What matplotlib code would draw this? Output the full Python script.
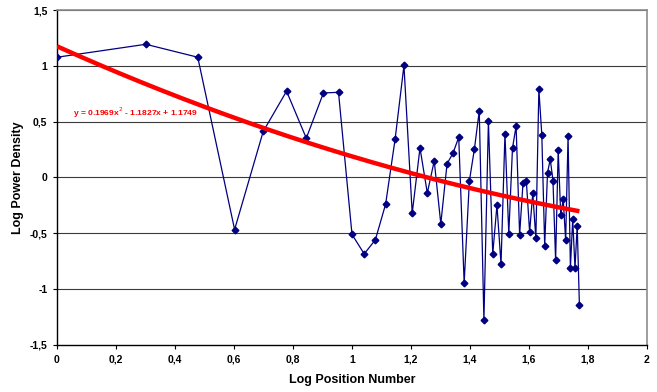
import numpy as np
import matplotlib
matplotlib.use("Agg")
import matplotlib.pyplot as plt
from matplotlib.ticker import FuncFormatter

plt.rcParams['font.family'] = ['Liberation Sans', 'DejaVu Sans']

# position numbers 1..59 and their measured log power density
position = [1, 2, 3, 4, 5, 6, 7, 8, 9, 10,
            11, 12, 13, 14, 15, 16, 17, 18, 19, 20,
            21, 22, 23, 24, 25, 26, 27, 28, 29, 30,
            31, 32, 33, 34, 35, 36, 37, 38, 39, 40,
            41, 42, 43, 44, 45, 46, 47, 48, 49, 50,
            51, 52, 53, 54, 55, 56, 57, 58, 59]
log_power = [1.077, 1.193, 1.077, -0.466, 0.412, 0.773, 0.352, 0.757, 0.763, -0.51,
             -0.684, -0.558, -0.239, 0.343, 1.003, -0.32, 0.265, -0.139, 0.149, -0.415,
             0.123, 0.218, 0.36, -0.945, -0.03, 0.256, 0.596, -1.279, 0.502, -0.684,
             -0.248, -0.776, 0.39, -0.505, 0.265, 0.46, -0.512, -0.045, -0.035, -0.487,
             -0.143, -0.546, 0.79, 0.381, -0.612, 0.043, 0.163, -0.028, -0.743, 0.244,
             -0.335, -0.197, -0.563, 0.37, -0.808, -0.373, -0.812, -0.43, -1.142]

# quadratic trend coefficients (highest power first)
trend = [0.1969, -1.1827, 1.1749]
trend_label = "y = 0.1969x$^2$ - 1.1827x + 1.1749"

x = np.log10(position)
y = np.array(log_power)

fig = plt.figure(figsize=(6.57, 3.92), dpi=100)
ax = fig.add_axes([57/657, 1 - 345/392, 590/657, 335/392])

for level in [-1, -0.5, 0, 0.5, 1, 1.5]:
    ax.axhline(level, color='#3a3a3a', lw=0.8, zorder=1)

ax.plot(x, y, color='#000080', lw=0.9, marker='D', ms=3.4,
        markerfacecolor='#000080', markeredgecolor='#000080', zorder=3)

xt = np.linspace(0, x.max(), 200)
ax.plot(xt, np.polyval(trend, xt), color='#ff0000', lw=3.2, zorder=4,
        solid_capstyle='butt')
ax.text(0.053, 0.549, trend_label, color='#ff0000', fontsize=6.1,
        fontweight='bold', ha='left', va='baseline', zorder=5)

ax.set_xlim(0, 2)
ax.set_ylim(-1.5, 1.5)
ax.set_xticks(np.arange(0, 2.01, 0.2))
ax.set_yticks(np.arange(-1.5, 1.51, 0.5))

comma = FuncFormatter(lambda v, p: ('%g' % round(v, 2)).replace('.', ','))
ax.xaxis.set_major_formatter(comma)
ax.yaxis.set_major_formatter(comma)
ax.tick_params(direction='out', length=3, width=0.8, labelsize=7.5, pad=4)
for lab in ax.get_xticklabels() + ax.get_yticklabels():
    lab.set_fontweight('bold')

for side in ['left', 'bottom']:
    ax.spines[side].set_color('black')
    ax.spines[side].set_linewidth(1.0)
for side in ['top', 'right']:
    ax.spines[side].set_color('#8c8c8c')
    ax.spines[side].set_linewidth(1.2)

ax.set_xlabel('Log Position Number', fontsize=9, fontweight='bold', labelpad=7)
ax.set_ylabel('Log Power Density', fontsize=9, fontweight='bold', labelpad=4)

fig.savefig('out.png', dpi=100)
